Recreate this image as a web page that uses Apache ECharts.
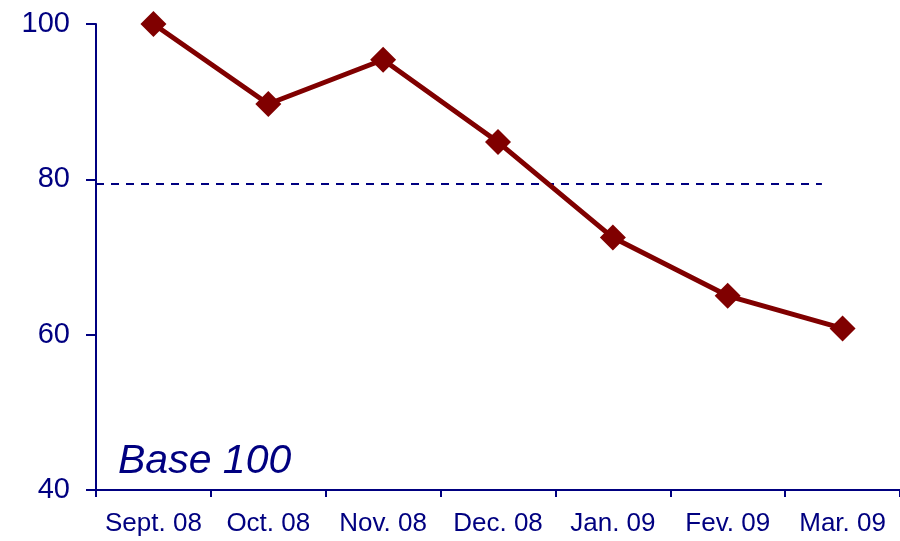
<!DOCTYPE html>
<html>
<head>
<meta charset="utf-8">
<script src="https://cdn.jsdelivr.net/npm/echarts@6/dist/echarts.min.js"></script>
<style>
  html, body { margin: 0; padding: 0; background: #fff; }
  #chart { width: 900px; height: 541px; }
</style>
</head>
<body>
<div id="chart"></div>
<script>
// données
const months = ['Sept. 08', 'Oct. 08', 'Nov. 08', 'Dec. 08', 'Jan. 09', 'Fev. 09', 'Mar. 09'];
const indexValues = [100, 89.7, 95.4, 84.8, 72.5, 65.0, 60.8];
const yTicks = [40, 60, 80, 100];
// ligne pointillée (position en mois sur un axe caché 0..7)
const refLine = [[0, 79.4], [6.32, 79.4]];

const navy = '#000080';
const red = '#800000';

const chart = echarts.init(document.getElementById('chart'));
const option = {
    animation: false,
    title: {
        text: 'Base 100',
        left: 113,
        top: 436,
        textStyle: {
            fontFamily: 'Liberation Sans, Arial, sans-serif',
            fontStyle: 'italic',
            fontWeight: 'normal',
            fontSize: 41,
            color: navy
        }
    },
    grid: { left: 96, right: 0, top: 24, bottom: 51 },
    xAxis: [
        {
            type: 'category',
            data: months,
            boundaryGap: true,
            axisLine: { lineStyle: { color: navy, width: 2 } },
            axisTick: { show: true, length: 7, interval: 0, lineStyle: { color: navy, width: 2 } },
            axisLabel: {
                color: navy,
                fontSize: 26,
                margin: 21,
                interval: 0,
                hideOverlap: false,
                fontFamily: 'Liberation Sans, Arial, sans-serif'
            },
            splitLine: { show: false }
        },
        {
            type: 'value',
            min: 0,
            max: 7,
            show: false
        }
    ],
    yAxis: {
        type: 'value',
        min: yTicks[0],
        max: yTicks[yTicks.length - 1],
        interval: 20,
        axisLine: { show: true, lineStyle: { color: navy, width: 2 } },
        axisTick: { show: true, length: 10, lineStyle: { color: navy, width: 2 } },
        axisLabel: {
            color: navy,
            fontSize: 29,
            margin: 26,
            fontFamily: 'Liberation Sans, Arial, sans-serif'
        },
        splitLine: { show: false }
    },
    series: [
        {
            type: 'line',
            xAxisIndex: 1,
            data: refLine,
            symbol: 'none',
            lineStyle: { color: navy, width: 2, type: [8, 7] },
            silent: true
        },
        {
            type: 'line',
            data: indexValues,
            symbol: 'diamond',
            symbolSize: 26,
            lineStyle: { color: red, width: 5 },
            itemStyle: { color: red },
            z: 5
        }
    ]
};
chart.setOption(option);
</script>
</body>
</html>
